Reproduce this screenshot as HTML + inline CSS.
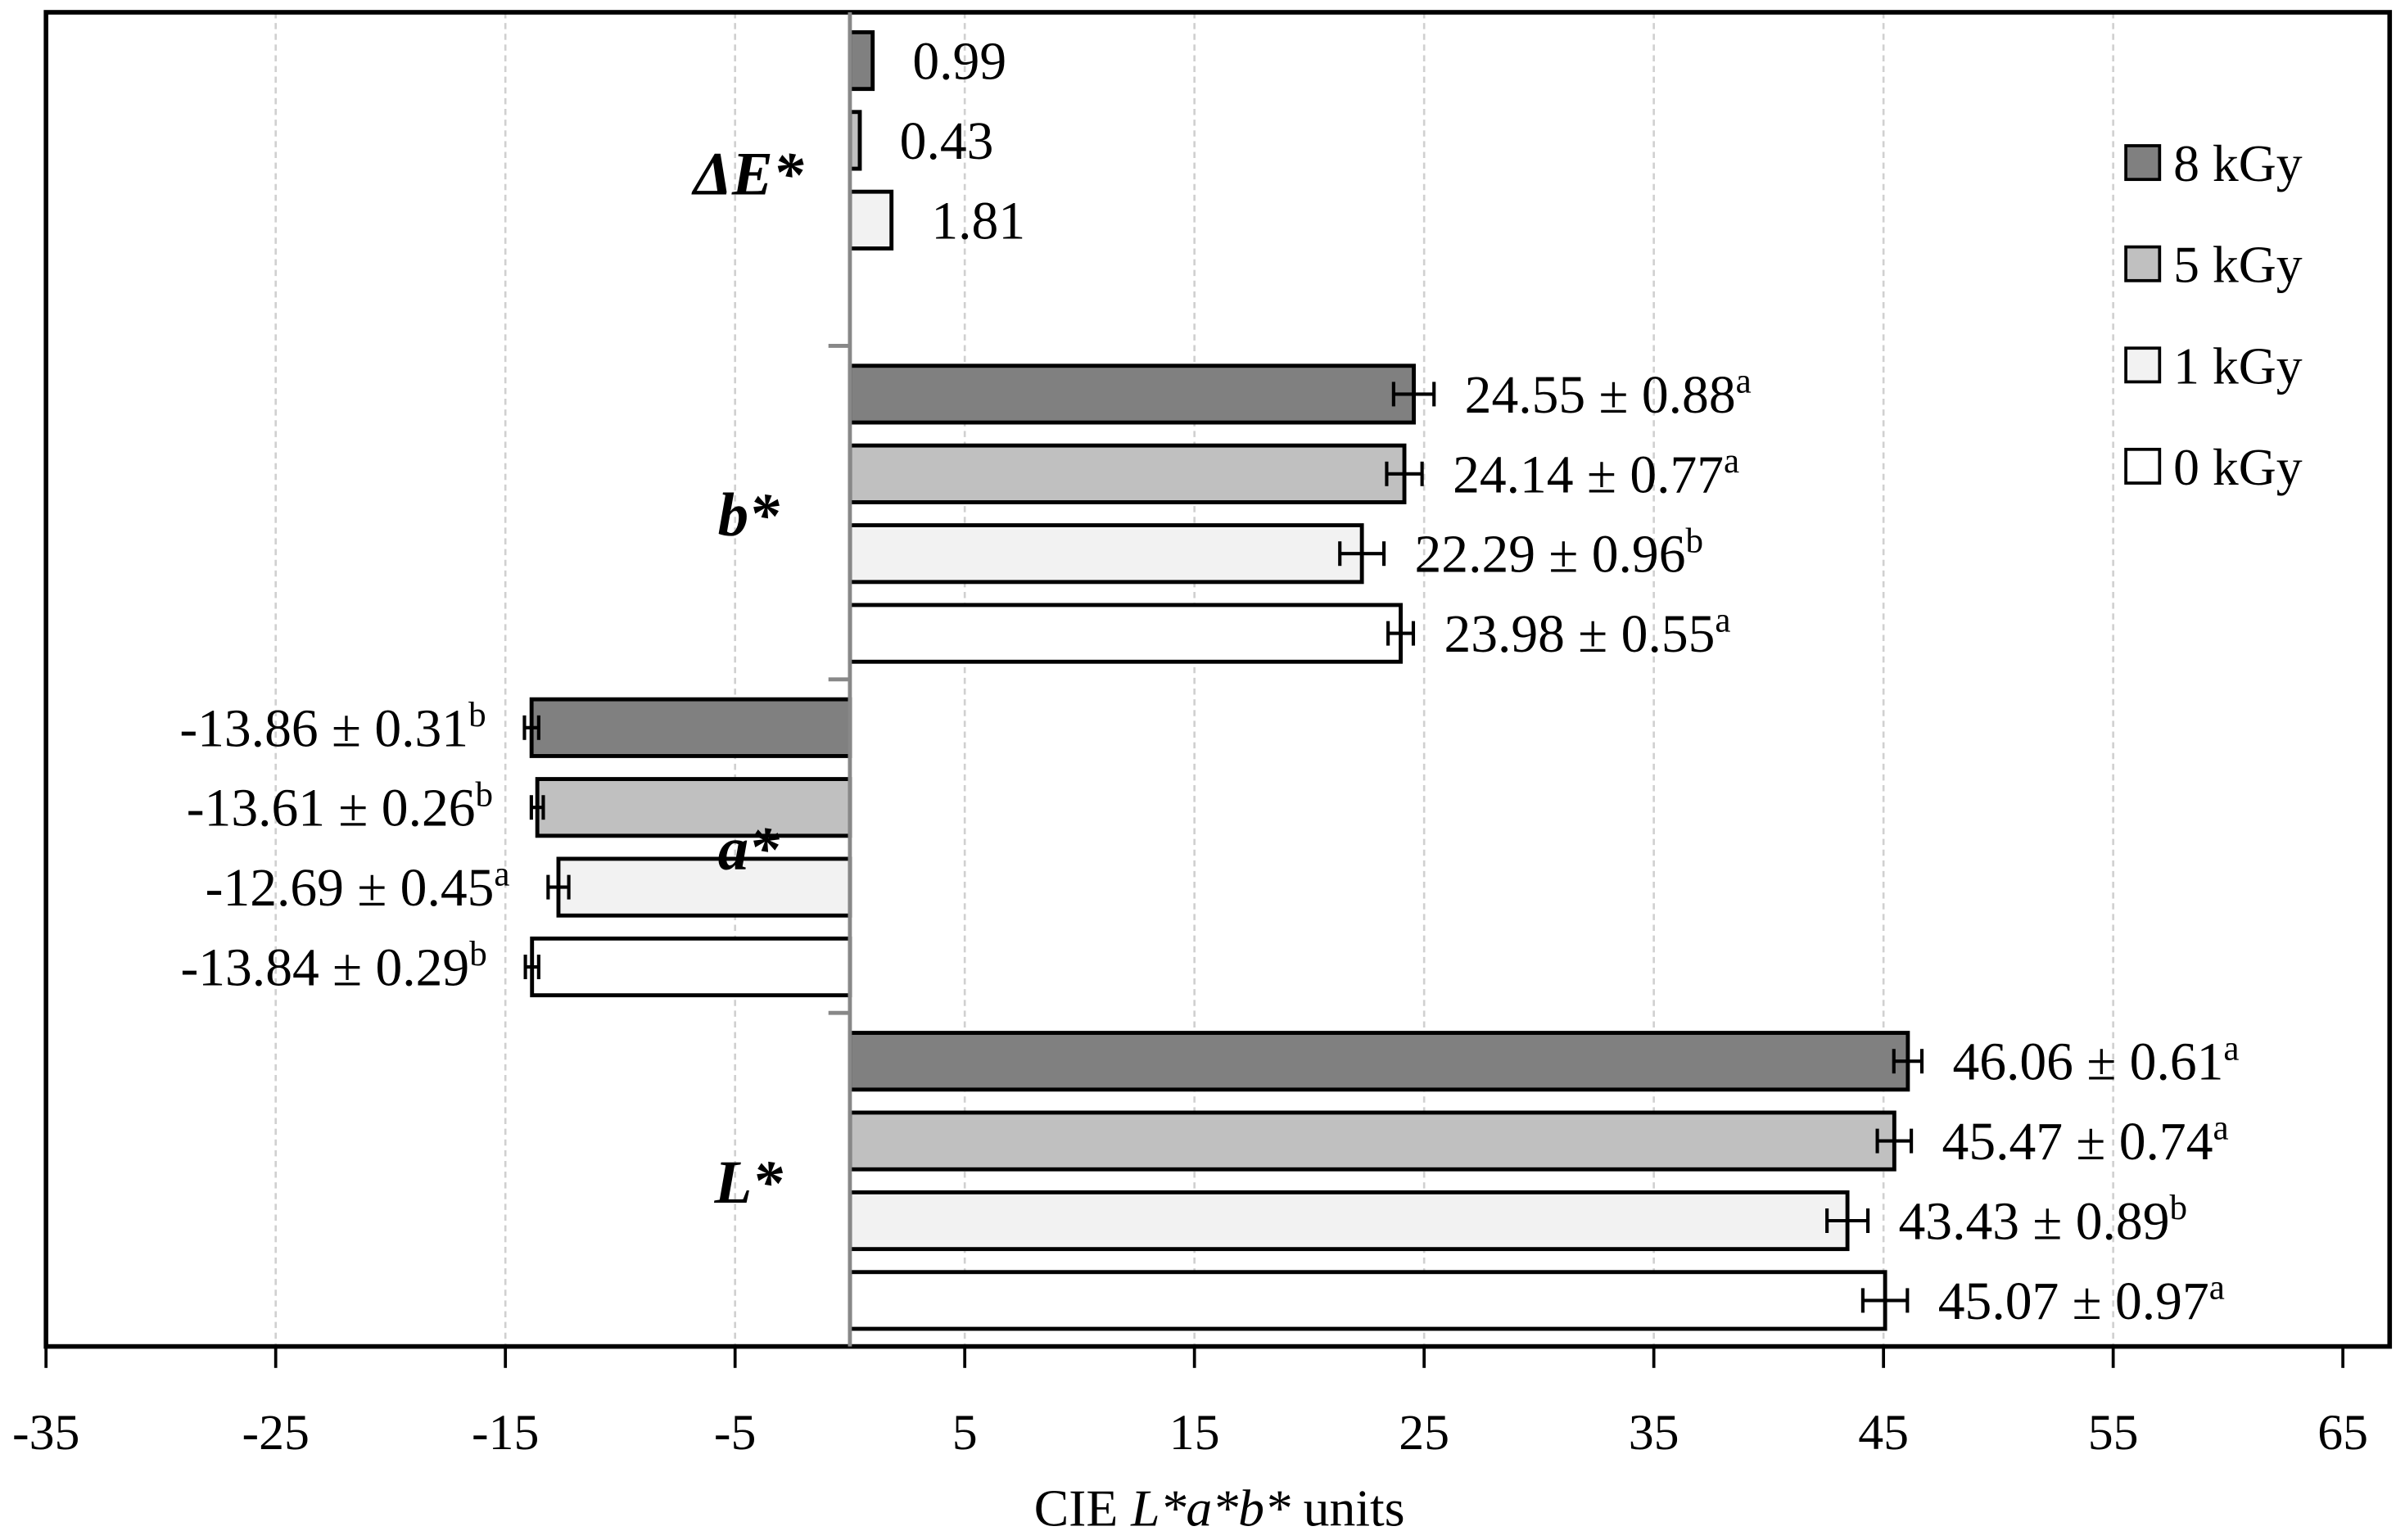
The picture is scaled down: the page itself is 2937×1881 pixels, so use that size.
<!DOCTYPE html>
<html><head><meta charset="utf-8"><style>
html,body{margin:0;padding:0;background:#fff}
svg{display:block}
text{font-family:"Liberation Serif",serif;fill:#000}
</style></head><body>
<svg id="chart" width="2937" height="1881" viewBox="0 0 1568 1004.2" xmlns="http://www.w3.org/2000/svg">
<g id="grid"></g>
<g id="bars"></g>
<g id="axes"></g>
<g id="labels"></g>
<g id="legend"></g>
<text x="795" y="995" text-anchor="middle" font-size="34">CIE <tspan font-style="italic">L*a*b*</tspan> units</text>
</svg>
<script>
const categories = ["ΔE*", "b*", "a*", "L*"];
const seriesNames = ["8 kGy", "5 kGy", "1 kGy", "0 kGy"];
const seriesColors = ["#808080", "#c0c0c0", "#f2f2f2", "#ffffff"];
const valuesDE = [0.99, 0.43, 1.81];
const valuesB = [24.55, 24.14, 22.29, 23.98];
const sdB = [0.88, 0.77, 0.96, 0.55];
const letB = ["a", "a", "b", "a"];
const valuesA = [-13.86, -13.61, -12.69, -13.84];
const sdA = [0.31, 0.26, 0.45, 0.29];
const letA = ["b", "b", "a", "b"];
const valuesL = [46.06, 45.47, 43.43, 45.07];
const sdL = [0.61, 0.74, 0.89, 0.97];
const letL = ["a", "a", "b", "a"];
const xTicks = [-35, -25, -15, -5, 5, 15, 25, 35, 45, 55, 65];

const NS = "http://www.w3.org/2000/svg";
const L = 30, R = 1558, T = 8, B = 878;
const xMin = -35, xMax = 65, xLeftPx = 30, xRightPx = 1527.5;
function xs(v){ return xLeftPx + (v - xMin) * (xRightPx - xLeftPx) / (xMax - xMin); }
const bandH = (B - T) / 4;
function bandTop(i){ return T + i * bandH; }
function barY(i, j){ return bandTop(i) + 13 + j * 52; }
const barH = 37;
function mk(tag, attrs, parent){ const e = document.createElementNS(NS, tag); for (const k in attrs) e.setAttribute(k, attrs[k]); parent.appendChild(e); return e; }

const grid = document.getElementById('grid');
xTicks.forEach(t => {
  if (t === xMin || t === xMax) return;
  const g = mk('line', {x1:xs(t), x2:xs(t), y1:T, y2:B, stroke:"#d0d0d0", "stroke-width":1.4, "stroke-dasharray":"4 3"}, grid);
  
  
});

const bars = document.getElementById('bars');
const labels = document.getElementById('labels');
const data = [
  {v: valuesDE, sd: null, lt: null},
  {v: valuesB, sd: sdB, lt: letB},
  {v: valuesA, sd: sdA, lt: letA},
  {v: valuesL, sd: sdL, lt: letL}
];
data.forEach((d, i) => {
  d.v.forEach((v, j) => {
    const y = barY(i, j);
    const p0 = xs(0), p1 = xs(v);
    const r = mk('rect', {x: Math.min(p0, p1), y: y, width: Math.abs(p1 - p0), height: barH, fill: seriesColors[j], stroke: "#000", "stroke-width": 2.6}, bars);
    
    
    const cy = y + barH / 2;
    if (d.sd) {
      const sd = d.sd[j];
      const e1 = xs(v - sd), e2 = xs(v + sd);
      const eg = mk('g', {stroke: "#000", "stroke-width": 2.2}, bars);
      
      
      mk('line', {x1: e1, x2: e2, y1: cy, y2: cy}, eg);
      mk('line', {x1: e1, x2: e1, y1: cy - 8, y2: cy + 8}, eg);
      mk('line', {x1: e2, x2: e2, y1: cy - 8, y2: cy + 8}, eg);
      const t = mk('text', {y: cy + 12, "font-size": 35}, labels);
      
      
      t.textContent = v.toFixed(2) + " ± " + sd.toFixed(2);
      const s = mk('tspan', {"font-size": 23, dy: -13}, t);
      s.textContent = d.lt[j];
      if (v >= 0) { t.setAttribute('x', e2 + 20); }
      else { t.setAttribute('x', e1 - 25); t.setAttribute('text-anchor', 'end'); }
    } else {
      const t = mk('text', {x: p1 + 26, y: cy + 12, "font-size": 35}, labels);
      
      
      t.textContent = v.toFixed(2);
    }
  });
  const c = mk('text', {x: 488, y: bandTop(i) + bandH / 2 + 15 + (i === 0 ? -5 : 0), "text-anchor": "middle", "font-size": 40, "font-weight": "bold", "font-style": "italic"}, labels);
  
  
  c.textContent = categories[i];
});

const axes = document.getElementById('axes');
const fr = mk('rect', {x: L, y: T, width: R - L, height: B - T, fill: "none", stroke: "#000", "stroke-width": 3}, axes);


const za = mk('line', {x1: xs(0), x2: xs(0), y1: T, y2: B, stroke: "#888", "stroke-width": 2.6}, axes);


for (let i = 1; i < 4; i++) {
  const ct = mk('line', {x1: xs(0) - 14, x2: xs(0), y1: bandTop(i), y2: bandTop(i), stroke: "#888", "stroke-width": 2.6}, axes);
  
  
}
xTicks.forEach(t => {
  const tk = mk('line', {x1: xs(t), x2: xs(t), y1: B, y2: B + 14, stroke: "#000", "stroke-width": 2}, axes);
  
  
  const tl = mk('text', {x: xs(t), y: B + 67, "text-anchor": "middle", "font-size": 33}, axes);
  
  
  tl.textContent = t;
});

const legend = document.getElementById('legend');
seriesNames.forEach((n, j) => {
  const cy = 106 + j * 66;
  const g = mk('g', {}, legend);
  
  
  mk('rect', {x: 1386, y: cy - 11, width: 22, height: 22, fill: seriesColors[j], stroke: "#000", "stroke-width": 2}, g);
  const t = mk('text', {x: 1417, y: cy + 12, "font-size": 34}, g);
  t.textContent = n;
});
</script>
</body></html>
